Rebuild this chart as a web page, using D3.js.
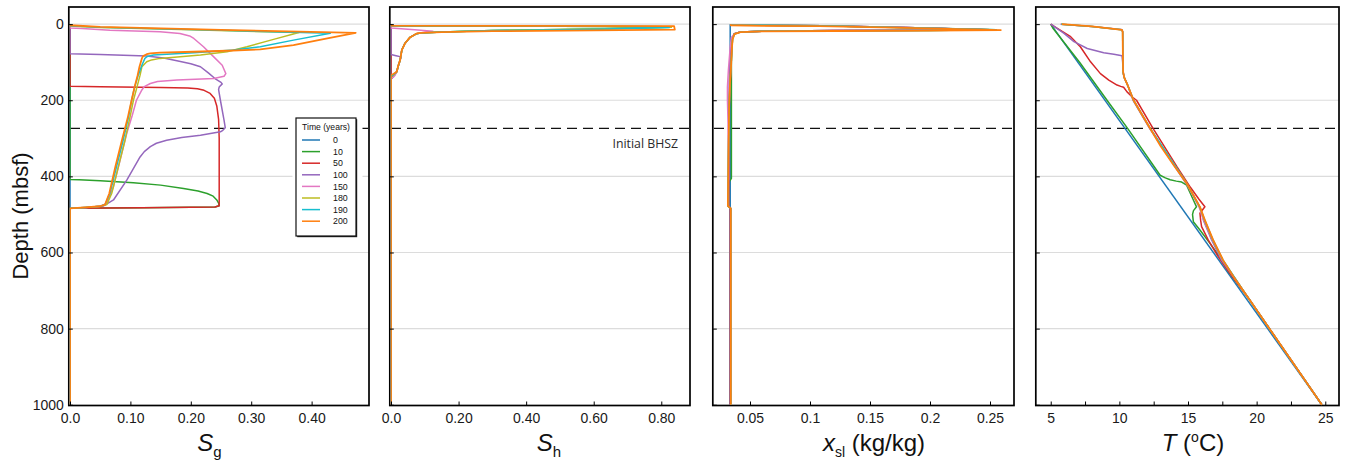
<!DOCTYPE html>
<html>
<head>
<meta charset="utf-8">
<script src="https://cdn.jsdelivr.net/npm/d3@7"></script>
<style>
  html, body { margin: 0; padding: 0; background: #fff; }
  svg { display: block; }
</style>
</head>
<body>
<svg id="chart" width="1345" height="464"></svg>
<script>
// ---------- Data: profiles as [value, depth (mbsf)] pairs ----------
const timeLabels = ["0", "10", "50", "100", "150", "180", "190", "200"];
const seriesColors = ["#1f77b4", "#2ca02c", "#d62728", "#9467bd", "#e377c2", "#bcbd22", "#17becf", "#ff7f0e"];

// Gas saturation S_g
const sgT0 = [[0,0],[0,1000]];
const sgT10 = [[0,0],[0,408],[0.015,409],[0.05,411.5],[0.105,417],[0.15,423],[0.188,432],[0.212,438.5],[0.227,445],[0.237,452],[0.243,462],[0.246,470],[0.247,477],[0.24,480.5],[0.12,482.5],[0,484],[0,1000]];
const sgT50 = [[0,0],[0,163],[0.05,164.5],[0.15,166.5],[0.195,167.8],[0.211,170],[0.222,174],[0.232,182],[0.239,195],[0.243,215],[0.246,250],[0.247,300],[0.247,400],[0.247,477],[0.24,480.5],[0.12,482.5],[0,484],[0,1000]];
const sgT100 = [[0,0],[0,78],[0.05,80],[0.127,84],[0.155,89],[0.177,96],[0.2,104],[0.216,112],[0.229,128],[0.24,143],[0.25,153],[0.252,157],[0.247,165],[0.246,172],[0.249,200],[0.255,252],[0.257,272],[0.253,279],[0.249,283],[0.216,292],[0.185,298],[0.16,305],[0.143,313],[0.133,322],[0.123,335],[0.116,349],[0.094,410],[0.072,462],[0.055,478],[0.03,481.5],[0,484],[0,1000]];
const sgT150 = [[0,0],[0,10],[0.02,11.5],[0.066,15.8],[0.149,20],[0.182,24.5],[0.198,31],[0.205,37.7],[0.221,59.5],[0.238,86],[0.252,108],[0.258,130],[0.255,137],[0.238,143],[0.177,147],[0.145,151],[0.133,156],[0.123,164],[0.119,173],[0.11,200],[0.103,240],[0.094,287],[0.083,357],[0.072,427],[0.061,471],[0.05,478.5],[0.025,481.5],[0,484],[0,1000]];
const sgT180 = [[0,0],[0,5],[0.05,9],[0.2,15],[0.379,22],[0.337,40],[0.293,59.5],[0.26,72.6],[0.216,81.4],[0.149,90],[0.135,94],[0.127,99],[0.119,112],[0.116,134],[0.111,165],[0.105,200],[0.0995,243],[0.091,305],[0.08,375],[0.069,445],[0.061,474],[0.05,478.5],[0.025,481.5],[0,484],[0,1000]];
const sgT190 = [[0,0],[0,4],[0.05,8],[0.25,16],[0.431,24],[0.37,42],[0.315,59.5],[0.271,68],[0.205,75],[0.138,81],[0.128,85],[0.124,90],[0.119,108],[0.113,134],[0.107,165],[0.102,200],[0.097,243],[0.088,305],[0.077,375],[0.066,445],[0.058,474],[0.05,478.5],[0.025,481.5],[0,484],[0,1000]];
const sgT200 = [[0,0],[0,3],[0.05,7],[0.25,15],[0.473,22.8],[0.426,37.7],[0.37,55],[0.315,66.5],[0.26,70],[0.205,72.6],[0.149,75],[0.133,77],[0.127,79],[0.121,84],[0.119,90],[0.115,112],[0.112,134],[0.107,165],[0.102,200],[0.096,243],[0.086,305],[0.075,375],[0.065,445],[0.058,474],[0.05,478.5],[0.025,481.5],[0,484],[0,1000]];

// Hydrate saturation S_h
const shT0 = [[0,0],[0,1000]];
const shT10 = [[0,0],[0,4],[0.3,5],[0.82,7],[0.828,8.5],[0.6,13],[0.3,17],[0.15,20.5],[0.09,23],[0.076,25],[0.056,35],[0.041,51],[0.032,68],[0.027,95],[0.022,108],[0.017,125],[0.01,133],[0.005,137],[0.003,141],[0,143],[0,1000]];
const shT50 = [[0,0],[0,1000]];
const shT100 = [[0,0],[0,80],[0.015,83],[0.03,86],[0.028,92],[0.024,103],[0.018,122],[0.012,132],[0.005,140],[0,145],[0,1000]];
const shT150 = [[0,0],[0,10],[0.03,12],[0.07,15],[0.124,19],[0.09,22.5],[0.076,25],[0.056,35],[0.041,51],[0.032,68],[0.027,95],[0.022,108],[0.017,125],[0.012,134],[0.006,140],[0,142],[0,1000]];
const shT180 = [[0,0],[0,4],[0.3,5],[0.82,7],[0.83,8.5],[0.6,13],[0.3,17],[0.15,20.5],[0.09,23],[0.076,25],[0.056,35],[0.041,51],[0.032,68],[0.027,95],[0.022,108],[0.017,125],[0.01,132],[0.004,136],[0,138],[0,1000]];
const shT190 = [[0,0],[0,4],[0.3,5],[0.815,7],[0.823,9],[0.6,13.5],[0.3,17],[0.15,20.5],[0.09,23],[0.076,25],[0.056,35],[0.041,51],[0.032,68],[0.027,95],[0.022,108],[0.017,125],[0.01,131],[0.004,134],[0,136],[0,1000]];
const shT200 = [[0,0],[0,4],[0.3,4.7],[0.838,5.5],[0.84,14.5],[0.6,16.5],[0.3,18.5],[0.15,21],[0.09,23],[0.076,24.5],[0.056,35],[0.041,51],[0.032,68],[0.027,94.6],[0.022,107.6],[0.017,125],[0.007,131],[0,133],[0,1000]];

// Salt mass fraction x_sl (kg/kg)
const xsT0 = [[0.0335,0],[0.0335,1000]];
const xsT10 = [[0.0345,0],[0.0345,2],[0.06,3],[0.11,4.5],[0.18,9],[0.255,14.5],[0.2,16],[0.12,17],[0.06,18.5],[0.042,20.5],[0.037,25],[0.0348,40],[0.0345,100],[0.0345,405],[0.0328,414],[0.0325,478],[0.0335,484],[0.0335,1000]];
const xsT50 = [[0.0345,0],[0.0345,2],[0.06,3],[0.11,4.5],[0.18,9],[0.25,14.5],[0.2,16],[0.12,17],[0.06,18.5],[0.042,20.5],[0.037,25],[0.0348,40],[0.0343,100],[0.0338,140],[0.0334,165],[0.0328,200],[0.0325,300],[0.0323,478],[0.0335,484],[0.0335,1000]];
const xsT100 = [[0.0345,0],[0.0345,2],[0.06,3],[0.11,4.5],[0.18,9],[0.25,14.5],[0.2,16],[0.12,17],[0.06,18.5],[0.042,20.5],[0.037,25],[0.0348,40],[0.0343,78],[0.0333,90],[0.0326,150],[0.0324,300],[0.0322,478],[0.0335,484],[0.0335,1000]];
const xsT150 = [[0.0345,0],[0.0345,2],[0.06,3],[0.11,4.5],[0.18,9],[0.245,14.5],[0.2,16],[0.12,17],[0.06,18.5],[0.042,20.5],[0.037,25],[0.0345,35],[0.0335,60],[0.032,120],[0.0312,165],[0.0312,200],[0.0317,260],[0.032,400],[0.032,478],[0.034,484],[0.034,1000]];
const xsT180 = [[0.0345,0],[0.0345,2],[0.06,3],[0.11,4.5],[0.18,9.5],[0.25,15],[0.2,16.5],[0.12,17.5],[0.06,19],[0.042,21],[0.037,26],[0.0355,40],[0.035,60],[0.0342,112],[0.0334,150],[0.0326,217],[0.032,350],[0.0316,462],[0.0316,478],[0.034,484],[0.034,1000]];
const xsT190 = [[0.0345,0],[0.0345,2],[0.06,3],[0.11,4.5],[0.18,9.5],[0.255,15],[0.2,16.5],[0.12,17.5],[0.06,19],[0.042,21],[0.037,26],[0.0355,40],[0.035,60],[0.0342,112],[0.0334,150],[0.0326,217],[0.032,350],[0.0316,462],[0.0316,478],[0.034,484],[0.034,1000]];
const xsT200 = [[0.034,0],[0.034,3],[0.06,4.5],[0.108,5.5],[0.18,10],[0.259,15.5],[0.2,17],[0.12,18],[0.06,19],[0.042,21],[0.037,26],[0.0355,40],[0.035,60],[0.0342,112],[0.0334,150],[0.0326,217],[0.032,350],[0.0316,462],[0.0316,478],[0.034,484],[0.034,1000]];

// Temperature T (degC)
const tT0 = [[5,0],[24.75,1000]];
const tT10 = [[5,0],[5.15,10],[7.1,100],[9.1,200],[10.6,274],[12.97,397],[13.35,404],[13.7,409],[14.15,412.5],[14.54,415],[14.9,423],[15.39,462],[15.62,480],[15.4,490],[15.33,500],[15.39,519],[15.87,541],[16.6,576],[17.3,611],[17.95,650],[19.5,725],[24.75,1000]];
const tT50 = [[5,0],[5.48,11],[6.45,33],[7.17,60],[7.9,99],[8.62,130],[9.23,147],[9.83,160],[10.1,163.5],[10.31,166],[10.56,178],[10.92,191],[11.25,200],[12.45,274],[14.18,374],[15.2,430],[15.8,460],[16.23,480],[15.87,497],[15.92,515],[15.99,532],[16.47,567],[17.2,611],[17.85,645],[19.5,725],[24.75,1000]];
const tT100 = [[5,0],[5.97,24.5],[6.69,46],[7.66,64],[8.3,70],[8.86,75],[9.6,79],[10.19,83],[10.24,100],[10.27,125],[10.35,140],[10.6,160],[11.0,200],[12.2,274],[14.85,418],[15.7,470],[15.95,490],[16.12,515],[16.72,567],[17.45,620],[19.5,725],[24.75,1000]];
const tT150 = [[5.7,0],[8,6],[10.15,14],[10.25,20],[10.26,125],[10.35,140],[10.6,160],[11.02,200],[12.22,274],[14.88,418],[15.8,480],[16.15,515],[16.78,567],[17.5,620],[19.5,725],[24.75,1000]];
const tT180 = [[5.75,0],[8,6],[10.17,14.5],[10.24,20],[10.26,125],[10.35,140],[10.6,160],[11.03,200],[12.24,274],[14.9,418],[15.85,480],[16.2,515],[16.8,567],[17.53,620],[19.5,725],[24.75,1000]];
const tT190 = [[5.75,0],[8,6],[10.18,15],[10.24,20],[10.26,125],[10.35,140],[10.6,160],[11.04,200],[12.25,274],[14.9,418],[15.86,480],[16.22,515],[16.82,567],[17.55,620],[19.5,725],[24.75,1000]];
const tT200 = [[5.8,0],[8,6],[10.19,15],[10.24,20],[10.25,60],[10.27,125],[10.35,140],[10.6,160],[11.04,200],[11.6,235],[12.25,274],[13.0,320],[13.95,370],[14.9,418],[15.4,450],[15.87,480],[16.23,515],[16.83,567],[17.56,620],[18.4,668],[19.5,725],[24.75,1000]];

const sgSeries = [sgT0, sgT10, sgT50, sgT100, sgT150, sgT180, sgT190, sgT200];
const shSeries = [shT0, shT10, shT50, shT100, shT150, shT180, shT190, shT200];
const xsSeries = [xsT0, xsT10, xsT50, xsT100, xsT150, xsT180, xsT190, xsT200];
const tSeries  = [tT0, tT10, tT50, tT100, tT150, tT180, tT190, tT200];

// Axis ticks and labels
const depthTicks = [0, 200, 400, 600, 800, 1000];
const depthTickLabels = ["0", "200", "400", "600", "800", "1000"];
const sgTicks = [0, 0.1, 0.2, 0.3, 0.4];
const sgTickLabels = ["0.0", "0.10", "0.20", "0.30", "0.40"];
const shTicks = [0, 0.2, 0.4, 0.6, 0.8];
const shTickLabels = ["0.0", "0.20", "0.40", "0.60", "0.80"];
const xsTicks = [0.05, 0.1, 0.15, 0.2, 0.25];
const xsTickLabels = ["0.05", "0.1", "0.15", "0.2", "0.25"];
const tTicks = [5, 7.5, 10, 12.5, 15, 17.5, 20, 22.5, 25];
const tTickLabels = ["5", "", "10", "", "15", "", "20", "", "25"];

const bhszDepth = 274;
const bhszLabel = "Initial BHSZ";

// ---------- Layout ----------
const plotTop = 7, plotBottom = 405.5;
const tickFont = "'Liberation Sans', Arial, sans-serif";

const panels = [
  { left: 70,   right: 369,  domain: [0, 0.495],   ticks: sgTicks, labels: sgTickLabels, series: sgSeries, titleX: 209.5, title: "sg" },
  { left: 391,  right: 690,  domain: [0, 0.885],   ticks: shTicks, labels: shTickLabels, series: shSeries, titleX: 549,   title: "sh" },
  { left: 714,  right: 1014, domain: [0.02, 0.27], ticks: xsTicks, labels: xsTickLabels, series: xsSeries, titleX: 874,   title: "xs" },
  { left: 1037, right: 1339, domain: [4, 26],      ticks: tTicks,  labels: tTickLabels,  series: tSeries,  titleX: 1193,  title: "t" }
];

const svg = d3.select("#chart");
const y = d3.scaleLinear().domain([-45, 1002]).range([plotTop, plotBottom]);

panels.forEach((p, i) => {
  const x = d3.scaleLinear().domain(p.domain).range([p.left, p.right]);
  const g = svg.append("g").attr("class", "panel");

  // horizontal gridlines
  g.append("g").selectAll("line")
    .data(depthTicks.slice(0, -1))
    .join("line")
    .attr("x1", p.left).attr("x2", p.right)
    .attr("y1", d => y(d)).attr("y2", d => y(d))
    .attr("stroke", "#dcdcdc").attr("stroke-width", 1.2);

  // initial base of hydrate stability zone
  g.append("line")
    .attr("x1", p.left).attr("x2", p.right)
    .attr("y1", y(bhszDepth)).attr("y2", y(bhszDepth))
    .attr("stroke", "#111").attr("stroke-width", 1.3)
    .attr("stroke-dasharray", "10,6");

  // frame
  g.append("rect")
    .attr("x", p.left - 1.2).attr("y", plotTop)
    .attr("width", p.right - p.left + 1.2).attr("height", plotBottom - plotTop)
    .attr("fill", "none").attr("stroke", "#000").attr("stroke-width", 1.7);

  // clip for profiles
  svg.append("clipPath").attr("id", "clip" + i)
    .append("rect")
    .attr("x", p.left - 0.2).attr("y", plotTop)
    .attr("width", p.right - p.left + 0.2).attr("height", plotBottom - plotTop);

  const line = d3.line()
    .x(d => x(d[0]))
    .y(d => y(d[1]));

  g.append("g").attr("clip-path", `url(#clip${i})`)
    .selectAll("path")
    .data(p.series)
    .join("path")
    .attr("d", line)
    .attr("fill", "none")
    .attr("stroke", (d, k) => seriesColors[k])
    .attr("stroke-width", (d, k) => k === 7 ? 1.8 : 1.5)
    .attr("stroke-linejoin", "round");

  // bottom axis, ticks pointing inward
  const xAxis = d3.axisBottom(x)
    .tickValues(p.ticks)
    .tickFormat((d, k) => p.labels[k])
    .tickSizeInner(-4).tickSizeOuter(0).tickPadding(8);
  g.append("g")
    .attr("transform", `translate(0,${plotBottom})`)
    .call(xAxis)
    .call(a => a.select(".domain").remove())
    .call(a => a.selectAll("line").attr("stroke", "#000"))
    .call(a => a.selectAll("text").attr("font-family", tickFont).attr("font-size", 14).attr("fill", "#1a1a1a"));

  // left axis: labels only on the first panel
  const yAxis = d3.axisLeft(y)
    .tickValues(depthTicks)
    .tickFormat((d, k) => i === 0 ? depthTickLabels[k] : "")
    .tickSizeInner(-4).tickSizeOuter(0).tickPadding(5);
  g.append("g")
    .attr("transform", `translate(${p.left - 1.2},0)`)
    .call(yAxis)
    .call(a => a.select(".domain").remove())
    .call(a => a.selectAll("line").attr("stroke", "#000"))
    .call(a => a.selectAll("text").attr("font-family", tickFont).attr("font-size", 14).attr("fill", "#1a1a1a"));

  // axis title
  const t = g.append("text")
    .attr("x", p.titleX).attr("y", 451)
    .attr("text-anchor", "middle")
    .attr("font-family", tickFont).attr("font-size", 24).attr("fill", "#111");
  if (p.title === "sg" || p.title === "sh") {
    t.append("tspan").attr("font-style", "italic").text("S");
    t.append("tspan").attr("font-size", 15).attr("dy", 6).text(p.title === "sg" ? "g" : "h");
  } else if (p.title === "xs") {
    t.append("tspan").attr("font-style", "italic").text("x");
    t.append("tspan").attr("font-size", 14).attr("dy", 6).text("sl");
    t.append("tspan").attr("dy", -6).text(" (kg/kg)");
  } else {
    t.append("tspan").attr("font-style", "italic").text("T");
    t.append("tspan").text(" (");
    t.append("tspan").attr("font-size", 14).attr("dy", -9).text("o");
    t.append("tspan").attr("dy", 9).text("C)");
  }

  if (i === 1) {
    g.append("text")
      .attr("x", 678).attr("y", 148)
      .attr("text-anchor", "end")
      .attr("font-family", "'Open Sans', 'Noto Sans', sans-serif")
      .attr("font-size", 12.3).attr("fill", "#2a2a2a")
      .text(bhszLabel);
  }
});

// depth axis label
svg.append("text")
  .attr("transform", "translate(28,216) rotate(-90)")
  .attr("text-anchor", "middle")
  .attr("font-family", tickFont).attr("font-size", 22).attr("fill", "#111")
  .text("Depth (mbsf)");

// ---------- Legend ----------
const lg = svg.append("g").attr("class", "legend");
const lgX = 296, lgY = 118, lgW = 60, lgH = 118;
lg.append("rect").attr("x", lgX - 3.5).attr("y", lgY - 3).attr("width", lgW + 10).attr("height", lgH + 7).attr("fill", "#fff");
lg.append("rect").attr("x", lgX + 1.2).attr("y", lgY + 1.2).attr("width", lgW).attr("height", lgH).attr("fill", "#222");
lg.append("rect").attr("x", lgX).attr("y", lgY).attr("width", lgW).attr("height", lgH)
  .attr("fill", "#fff").attr("stroke", "#111").attr("stroke-width", 1.2);
lg.append("text")
  .attr("x", lgX + 30).attr("y", lgY + 11.5)
  .attr("text-anchor", "middle")
  .attr("font-family", tickFont).attr("font-size", 8.6).attr("fill", "#111")
  .text("Time (years)");
const rows = lg.selectAll("g.row").data(timeLabels).join("g")
  .attr("class", "row")
  .attr("transform", (d, k) => `translate(0,${lgY + 22 + k * 11.6})`);
rows.append("line")
  .attr("x1", lgX + 6).attr("x2", lgX + 24)
  .attr("stroke", (d, k) => seriesColors[k]).attr("stroke-width", 1.5);
rows.append("text")
  .attr("x", lgX + 37).attr("y", 3.2)
  .attr("font-family", tickFont).attr("font-size", 8.8).attr("fill", "#111")
  .text(d => d);
</script>
</body>
</html>
